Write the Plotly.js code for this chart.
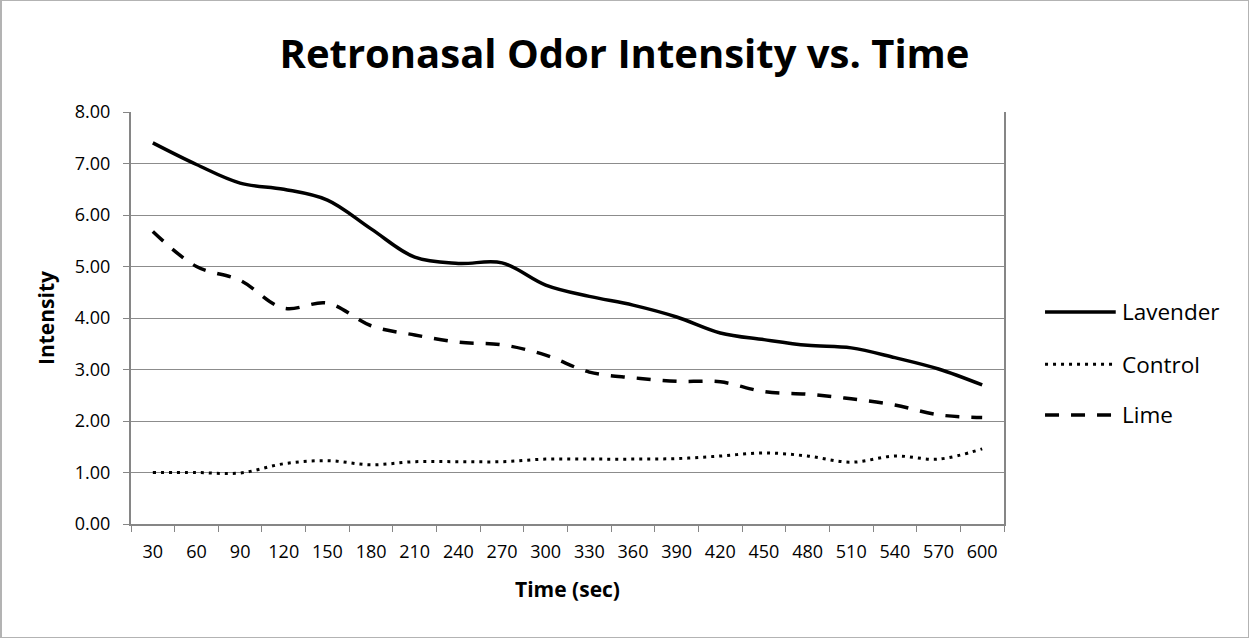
<!DOCTYPE html>
<html>
<head>
<meta charset="utf-8">
<script src="https://cdn.plot.ly/plotly-3.0.1.min.js"></script>
<style>
html,body{margin:0;padding:0;background:#fff;}
#wrap{position:relative;width:1249px;height:638px;}
#chart{width:1249px;height:638px;}
#frame{position:absolute;left:0;top:0;width:1249px;height:638px;box-sizing:border-box;border-left:2px solid #b3b3b3;border-top:1px solid #b3b3b3;border-right:1px solid #b3b3b3;border-bottom:1px solid #b3b3b3;pointer-events:none;}
</style>
</head>
<body>
<div id="wrap"><div id="chart"></div><div id="frame"></div></div>
<script>
const timeLabels = ["30","60","90","120","150","180","210","240","270","300","330","360","390","420","450","480","510","540","570","600"];
const lavender = [7.40,6.98,6.62,6.50,6.29,5.73,5.18,5.06,5.07,4.64,4.42,4.25,4.02,3.71,3.58,3.47,3.42,3.23,3.01,2.70];
const control  = [1.00,1.00,0.99,1.17,1.23,1.15,1.21,1.21,1.21,1.26,1.26,1.26,1.27,1.32,1.38,1.32,1.20,1.32,1.26,1.46];
const lime     = [5.68,5.00,4.73,4.19,4.29,3.85,3.67,3.53,3.48,3.28,2.95,2.84,2.77,2.76,2.57,2.52,2.43,2.31,2.12,2.07];
const seriesNames = ["Lavender","Control","Lime"];

const FONT = "'Open Sans', Lato, sans-serif";
const styles = [
  {color:"#000", width:3.5, dash:"solid"},
  {color:"#000", width:3, dash:"3px,5px"},
  {color:"#000", width:3.5, dash:"14px,12px"}
];
const values = [lavender, control, lime];

const traces = values.map((v,i)=>({
  type:"scatter", mode:"lines", x:timeLabels, y:v, name:seriesNames[i],
  line:{color:styles[i].color, width:styles[i].width, dash:styles[i].dash, shape:"spline", smoothing:1},
  showlegend:false, hoverinfo:"x+y+name"
}));

const legY = [0.5146, 0.388, 0.2646];
const shapes = [];
const annotations = [];
seriesNames.forEach((n,i)=>{
  shapes.push({type:"line", xref:"paper", yref:"paper", x0:1.047, x1:1.128, y0:legY[i], y1:legY[i],
    line:{color:styles[i].color, width:styles[i].width, dash:styles[i].dash}});
  annotations.push({xref:"paper", yref:"paper", x:1.133, y:legY[i], xanchor:"left", yanchor:"middle",
    text:n, showarrow:false, font:{family:FONT, size:22.5, color:"#000"}});
});

const layout = {
  width:1249, height:638,
  margin:{l:131, r:245, t:112, b:114},
  paper_bgcolor:"#fff", plot_bgcolor:"#fff",
  font:{family:FONT, color:"#000"},
  title:{text:"<b>Retronasal Odor Intensity vs. Time</b>", x:0.5, xref:"container", y:0.915, yref:"container", yanchor:"middle",
    font:{family:FONT, size:40, color:"#000"}},
  xaxis:{
    type:"category", range:[-0.5,19.5], autorange:false, tickson:"boundaries", ticks:"outside", ticklen:6, tickcolor:"#868686", tickwidth:1,
    showline:true, linecolor:"#868686", linewidth:2, mirror:false, showgrid:false, zeroline:false,
    ticklabelstandoff:10,
    tickfont:{family:FONT, size:18, color:"#000"},
    title:{text:"<b>Time (sec)</b>", font:{family:FONT, size:21, color:"#000"}, standoff:21}
  },
  yaxis:{
    range:[0,8], autorange:false, dtick:1, tick0:0, tickformat:".2f", ticks:"outside", ticklen:6, tickcolor:"#868686",
    showline:true, linecolor:"#868686", linewidth:2, mirror:true, showgrid:true, gridcolor:"#8c8c8c", gridwidth:1,
    zeroline:false, ticklabelstandoff:9, tickfont:{family:FONT, size:18, color:"#000"},
    title:{text:"<b>Intensity</b>", font:{family:FONT, size:21, color:"#000"}, standoff:14}
  },
  shapes:shapes, annotations:annotations
};

Plotly.newPlot("chart", traces, layout, {displayModeBar:false, staticPlot:true});
</script>
</body>
</html>
